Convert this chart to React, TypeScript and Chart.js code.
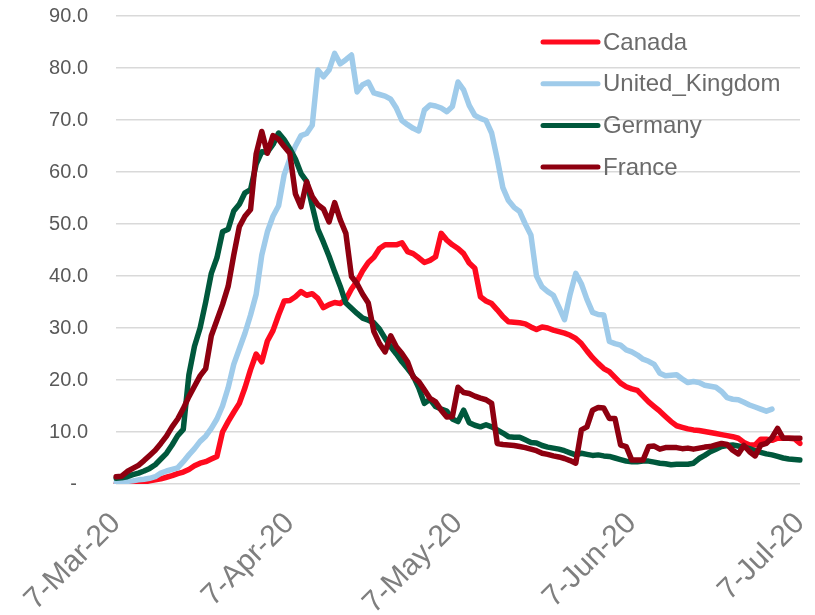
import React, { useEffect, useRef } from 'react';
import { Chart, registerables } from 'chart.js';

Chart.register(...registerables);

// ---------- DATA ----------
const MONTHS = ['Jan', 'Feb', 'Mar', 'Apr', 'May', 'Jun', 'Jul', 'Aug', 'Sep', 'Oct', 'Nov', 'Dec'];
const START_YEAR = 2020;
const START_MONTH = 2; // March (0-based)
const START_DAY = 7;
const DAY_COUNT = 123; // 7-Mar-20 .. 7-Jul-20

function buildCategories(): string[] {
  const out: string[] = [];
  for (let i = 0; i < DAY_COUNT; i++) {
    const d = new Date(Date.UTC(START_YEAR, START_MONTH, START_DAY + i));
    out.push(`${d.getUTCDate()}-${MONTHS[d.getUTCMonth()]}-${String(d.getUTCFullYear()).slice(2)}`);
  }
  return out;
}
const CATEGORIES = buildCategories();

const TICK_LABELS = ['7-Mar-20', '7-Apr-20', '7-May-20', '7-Jun-20', '7-Jul-20'];
const Y_MIN = 0;
const Y_MAX = 90;
const Y_STEP = 10;

const SERIES_NAMES = ['Canada', 'United_Kingdom', 'Germany', 'France'];

const CANADA = [
  0.0, 0.1, 0.1, 0.2, 0.3, 0.4, 0.6, 0.8, 1.0, 1.3,
  1.6, 2.0, 2.3, 2.8, 3.5, 4.0, 4.3, 4.8, 5.3, 10.0,
  12.0, 13.8, 15.5, 18.5, 22.0, 25.0, 23.5, 27.5, 29.5, 32.5,
  35.2, 35.3, 36.0, 37.0, 36.3, 36.6, 35.7, 33.9, 34.5, 34.9,
  34.7, 35.5, 37.5, 39.0, 41.0, 42.6, 43.6, 45.3, 46.0, 46.0,
  46.0, 46.4, 44.7, 44.3, 43.5, 42.6, 43.0, 43.7, 48.2, 46.9,
  46.0, 45.3, 44.3, 42.5, 41.5, 36.0, 35.2, 34.7, 33.5, 32.2,
  31.2, 31.1, 31.0, 30.8, 30.2, 29.7, 30.2, 30.0, 29.6, 29.3,
  29.0, 28.6, 28.0, 27.0, 25.6, 24.3, 23.2, 22.2, 21.6, 20.5,
  19.4, 18.7, 18.3, 18.0, 16.9, 15.8, 14.9, 14.0, 13.0, 12.0,
  11.2, 10.9, 10.6, 10.4, 10.3, 10.1, 9.9, 9.7, 9.5, 9.3,
  9.1, 8.8, 8.0, 7.5, 7.5, 8.6, 8.6, 8.4, 8.8, 8.8,
  8.8, 8.7, 7.8,
];

const UNITED_KINGDOM = [
  0.3, 0.4, 0.5, 0.6, 0.8, 0.9, 1.1, 1.4, 2.1, 2.5,
  2.8, 3.1, 4.3, 5.6, 6.8, 8.2, 9.2, 10.7, 12.5, 15.0,
  18.5, 23.0, 26.0, 29.0, 32.5, 36.5, 44.0, 48.5, 51.5, 53.5,
  59.5, 62.5, 65.0, 67.0, 67.4, 69.0, 79.6, 78.3, 79.6, 82.8,
  80.8, 81.6, 82.5, 75.4, 76.8, 77.3, 75.2, 74.9, 74.6, 74.0,
  72.3, 69.9, 69.1, 68.4, 67.9, 71.9, 72.9, 72.7, 72.3, 71.6,
  72.6, 77.3, 75.8, 72.8, 70.9, 70.3, 69.9, 67.5, 62.5, 57.0,
  54.5, 53.2, 52.4, 50.0, 47.9, 40.0, 37.9, 37.0, 36.3, 34.0,
  31.6, 36.5, 40.5, 38.5, 35.5, 33.0, 32.6, 32.5, 27.4, 27.0,
  26.7, 25.8, 25.4, 24.8, 24.0, 23.6, 23.0, 21.3, 20.8, 20.9,
  21.0, 20.2, 19.5, 19.7, 19.5, 19.0, 18.8, 18.6, 17.8, 16.6,
  16.3, 16.2, 15.7, 15.2, 14.8, 14.4, 14.0, 14.4, null, null,
  null, null, null,
];

const GERMANY = [
  1.1, 1.2, 1.4, 1.8, 2.1, 2.5, 3.0, 3.7, 4.8, 5.9,
  7.5, 9.3, 10.5, 21.0, 26.5, 30.0, 35.0, 40.5, 43.5, 48.5,
  49.0, 52.5, 53.8, 56.0, 56.6, 61.5, 63.9, 63.8, 65.3, 67.5,
  66.2, 64.5, 62.5, 59.7, 58.2, 53.5, 49.0, 46.5, 43.8, 40.8,
  38.0, 34.8, 33.8, 32.8, 31.9, 31.5, 31.0, 29.8, 28.0, 26.4,
  25.0, 23.5, 22.2, 20.8, 18.5, 15.5, 16.3, 14.9, 14.4, 14.0,
  12.5, 12.0, 14.2, 11.8, 11.3, 11.0, 11.4, 11.0, 10.4, 9.8,
  9.1, 9.0, 9.0, 8.5, 8.0, 7.9, 7.4, 7.1, 6.9, 6.7,
  6.4, 6.0, 5.6, 5.9, 5.7, 5.5, 5.6, 5.4, 5.3, 5.0,
  4.7, 4.4, 4.3, 4.3, 4.4, 4.4, 4.2, 4.0, 3.9, 3.7,
  3.8, 3.8, 3.8, 4.0, 4.9, 5.5, 6.2, 6.7, 7.2, 7.4,
  7.5, 7.3, 7.1, 6.8, 6.4, 6.1, 5.8, 5.6, 5.3, 5.0,
  4.8, 4.7, 4.6,
];

const FRANCE = [
  1.4, 1.5, 2.4, 3.0, 3.6, 4.5, 5.5, 6.5, 7.8, 9.2,
  11.0, 12.5, 14.5, 16.8, 18.8, 20.8, 22.2, 28.5, 31.5, 34.5,
  38.0, 44.0, 49.5, 51.5, 52.8, 63.5, 67.8, 63.6, 67.0, 66.3,
  64.9, 63.6, 55.8, 53.3, 58.1, 55.3, 53.7, 52.9, 50.4, 54.1,
  50.8, 48.2, 39.9, 38.5, 36.5, 34.8, 29.3, 27.0, 25.4, 28.5,
  26.4, 25.1, 23.5, 20.6, 19.7, 18.1, 16.5, 15.8, 14.2, 12.9,
  13.0, 18.6, 17.6, 17.4, 16.9, 16.5, 16.2, 15.5, 7.8, 7.6,
  7.5, 7.4, 7.2, 7.0, 6.7, 6.4, 5.9, 5.7, 5.4, 5.2,
  4.9, 4.5, 4.0, 10.4, 11.0, 14.2, 14.7, 14.6, 12.6, 12.6,
  7.5, 7.2, 4.6, 4.6, 4.6, 7.2, 7.3, 6.7, 7.0, 7.0,
  7.0, 6.8, 6.9, 6.7, 6.9, 7.1, 7.2, 7.5, 7.8, 7.6,
  6.5, 5.8, 7.4, 6.2, 5.4, 7.5, 7.8, 8.9, 10.7, 8.8,
  8.8, 8.8, 8.8,
];

const SERIES_VALUES = [CANADA, UNITED_KINGDOM, GERMANY, FRANCE];
const SERIES_COLORS = ['#FF0A1E', '#9FCBEA', '#00583C', '#8E0010'];

const FONT = '"Liberation Sans", Arial, Helvetica, sans-serif';

// ---------- legend drawn inside the plot ----------
const insideLegend = {
  id: 'insideLegend',
  afterDraw(chart: any) {
    const { ctx, chartArea } = chart;
    const x0 = chartArea.right - 257;
    const y0 = chartArea.top + 26;
    const rowH = 41.7;
    const datasets = chart.data.datasets;
    ctx.save();
    datasets.forEach((ds: any, i: number) => {
      const y = y0 + i * rowH;
      ctx.strokeStyle = ds.borderColor;
      ctx.lineWidth = 5;
      ctx.lineCap = 'round';
      ctx.beginPath();
      ctx.moveTo(x0, y);
      ctx.lineTo(x0 + 55, y);
      ctx.stroke();
      ctx.fillStyle = '#6b6b6b';
      ctx.font = `24px ${FONT}`;
      ctx.textAlign = 'left';
      ctx.textBaseline = 'middle';
      ctx.fillText(ds.label, x0 + 60, y + 1);
    });
    ctx.restore();
  },
};

export default function App() {
  const canvasRef = useRef<HTMLCanvasElement | null>(null);

  useEffect(() => {
    const canvas = canvasRef.current;
    if (!canvas) return;
    const chart = new Chart(canvas, {
      type: 'line',
      data: {
        labels: CATEGORIES,
        datasets: SERIES_NAMES.map((name, i) => ({
          label: name,
          data: SERIES_VALUES[i],
          borderColor: SERIES_COLORS[i],
          backgroundColor: SERIES_COLORS[i],
          borderWidth: 5.5,
          pointRadius: 0,
          pointHoverRadius: 0,
          tension: 0,
          fill: false,
          spanGaps: false,
          borderJoinStyle: 'round' as const,
          borderCapStyle: 'round' as const,
          order: SERIES_NAMES.length - i,
        })),
      },
      options: {
        responsive: false,
        animation: false,
        devicePixelRatio: 1,
        layout: { padding: { top: 16, right: 15, left: 0, bottom: 0 } },
        plugins: {
          legend: { display: false },
          tooltip: { enabled: false },
        },
        scales: {
          x: {
            type: 'category',
            offset: false,
            grid: { display: false, drawTicks: false },
            border: { display: false },
            ticks: {
              autoSkip: false,
              minRotation: 45,
              maxRotation: 45,
              padding: 22,
              color: '#7f7f7f',
              font: { family: FONT, size: 30 },
              callback: function (this: any, _v: any, index: number) {
                const lab = CATEGORIES[index];
                return TICK_LABELS.includes(lab) ? lab : null;
              },
            },
            afterFit: (scale: any) => {
              scale.height = 131;
              scale.paddingLeft = 0;
              scale.paddingRight = 0;
            },
          },
          y: {
            min: Y_MIN,
            max: Y_MAX,
            grid: { color: '#d9d9d9', lineWidth: 1.5, drawTicks: false },
            border: { display: false },
            ticks: {
              stepSize: Y_STEP,
              padding: 28,
              color: '#595959',
              font: { family: FONT, size: 20 },
              callback: (v: any) => (Number(v) === 0 ? '-  ' : Number(v).toFixed(1)),
            },
            afterFit: (scale: any) => {
              scale.width = 116;
              scale.paddingTop = 0;
              scale.paddingBottom = 0;
            },
          },
        },
      },
      plugins: [insideLegend],
    });
    return () => chart.destroy();
  }, []);

  return (
    <div style={{ position: 'fixed', left: 0, top: 0, width: 815, height: 615, background: '#fff' }}>
      <canvas ref={canvasRef} width={815} height={615} style={{ display: 'block', width: 815, height: 615 }} />
    </div>
  );
}
